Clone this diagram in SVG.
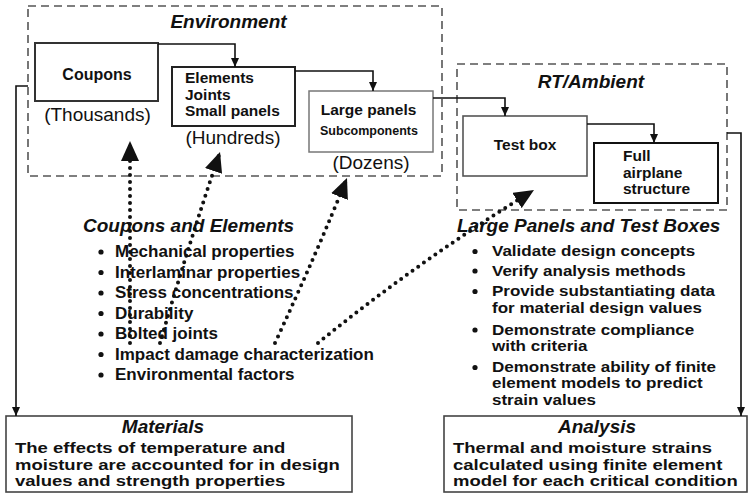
<svg xmlns="http://www.w3.org/2000/svg" width="750" height="494" viewBox="0 0 750 494">
<style>
text{font-family:"Liberation Sans",Arial,sans-serif;fill:#111}
.b{font-weight:bold}
.h{font-weight:bold;font-style:italic;font-size:19px}
.n{font-size:15.5px;font-weight:bold}
.cnt{font-size:19px;text-anchor:middle}
.li{font-size:17px;font-weight:bold}
.lr{font-size:14.8px;font-weight:bold}
.bt{font-size:14.8px;font-weight:bold}
.dash{fill:none;stroke:#555;stroke-width:1.6;stroke-dasharray:8 5}
.box{fill:#fff}
.conn{fill:none;stroke:#111;stroke-width:1.6}
.dot{fill:none;stroke:#111;stroke-width:4;stroke-dasharray:0 7;stroke-linecap:round}
.bul{fill:#111}
</style>
<defs>
<marker id="sa" viewBox="0 0 9 8" refX="9" refY="4" markerWidth="9" markerHeight="8" markerUnits="userSpaceOnUse" orient="auto"><path d="M0,0 L9,4 L0,8 z" fill="#111"/></marker>
<marker id="ba" viewBox="0 0 20 18" refX="20" refY="9" markerWidth="20" markerHeight="18" markerUnits="userSpaceOnUse" orient="auto"><path d="M0,0 L20,9 L0,18 z" fill="#111"/></marker>
</defs>
<rect width="750" height="494" fill="#fff"/>

<g id="environment">
<rect class="dash" x="28" y="6" width="414" height="170"/>
<text class="h" x="228.5" y="28" text-anchor="middle">Environment</text>
</g>
<g id="rt-ambient">
<rect class="dash" x="457" y="64" width="270" height="146"/>
<text class="h" x="591" y="88" text-anchor="middle">RT/Ambient</text>
</g>

<g id="coupons">
<rect class="box" x="35" y="43" width="123" height="58" stroke="#333" stroke-width="2"/>
<text class="b" x="97" y="80" font-size="16" text-anchor="middle">Coupons</text>
<text class="cnt" x="97.5" y="121">(Thousands)</text>
</g>
<g id="elements">
<rect class="box" x="172" y="67" width="123" height="59" stroke="#222" stroke-width="2"/>
<text class="n" x="185" y="83">Elements</text>
<text class="n" x="185" y="100">Joints</text>
<text class="n" x="185" y="116">Small panels</text>
<text class="cnt" x="233" y="144">(Hundreds)</text>
</g>
<g id="large-panels">
<rect class="box" x="309" y="91" width="124" height="61" stroke="#777" stroke-width="1.5"/>
<text class="n" x="368.5" y="115" text-anchor="middle">Large panels</text>
<text class="b" x="369" y="135" font-size="12.5" text-anchor="middle">Subcomponents</text>
<text class="cnt" x="371" y="169">(Dozens)</text>
</g>
<g id="test-box">
<rect class="box" x="463" y="116" width="124" height="60" stroke="#555" stroke-width="1.6"/>
<text class="n" x="525" y="150" text-anchor="middle">Test box</text>
</g>
<g id="full-airplane">
<rect class="box" x="594" y="143" width="124" height="60" stroke="#111" stroke-width="2"/>
<text class="n" x="623" y="161">Full</text>
<text class="n" x="623" y="178">airplane</text>
<text class="n" x="623" y="194">structure</text>
</g>

<g id="coupons-elements-list">
<text class="h" x="83" y="232">Coupons and Elements</text>
<g class="bul">
<circle cx="101" cy="252" r="2.6"/><circle cx="101" cy="272.5" r="2.6"/><circle cx="101" cy="293" r="2.6"/><circle cx="101" cy="313.5" r="2.6"/><circle cx="101" cy="334" r="2.6"/><circle cx="101" cy="354.5" r="2.6"/><circle cx="101" cy="375" r="2.6"/>
</g>
<text class="li" x="115" y="257">Mechanical properties</text>
<text class="li" x="115" y="277.5">Interlaminar properties</text>
<text class="li" x="115" y="298">Stress concentrations</text>
<text class="li" x="115" y="318.5">Durability</text>
<text class="li" x="115" y="339">Bolted joints</text>
<text class="li" x="115" y="359.5">Impact damage characterization</text>
<text class="li" x="115" y="380">Environmental factors</text>
</g>

<g id="large-panels-list">
<text class="h" x="457" y="232">Large Panels and Test Boxes</text>
<g class="bul">
<circle cx="475" cy="251.5" r="2.6"/><circle cx="475" cy="271" r="2.6"/><circle cx="475" cy="291.5" r="2.6"/><circle cx="475" cy="330" r="2.6"/><circle cx="475" cy="367.5" r="2.6"/>
</g>
<g transform="translate(492,0) scale(1.15,1)">
<text class="lr" x="0" y="256.5">Validate design concepts</text>
<text class="lr" x="0" y="276">Verify analysis methods</text>
<text class="lr" x="0" y="296.5">Provide substantiating data</text>
<text class="lr" x="0" y="313">for material design values</text>
<text class="lr" x="0" y="335">Demonstrate compliance</text>
<text class="lr" x="0" y="351.5">with criteria</text>
<text class="lr" x="0" y="372">Demonstrate ability of finite</text>
<text class="lr" x="0" y="388.5">element models to predict</text>
<text class="lr" x="0" y="405">strain values</text>
</g>
</g>

<g id="materials">
<rect class="box" x="6" y="416" width="346" height="76" stroke="#444" stroke-width="1.6"/>
<text class="h" x="163" y="433" text-anchor="middle">Materials</text>
<g transform="translate(15,0) scale(1.25,1)">
<text class="bt" x="0" y="453.5">The effects of temperature and</text>
<text class="bt" x="0" y="470">moisture are accounted for in design</text>
<text class="bt" x="0" y="486.5">values and strength properties</text>
</g>
</g>
<g id="analysis">
<rect class="box" x="444" y="416" width="303" height="76" stroke="#444" stroke-width="1.6"/>
<text class="h" x="597" y="433" text-anchor="middle">Analysis</text>
<g transform="translate(453,0) scale(1.25,1)">
<text class="bt" x="0" y="453.5">Thermal and moisture strains</text>
<text class="bt" x="0" y="470">calculated using finite element</text>
<text class="bt" x="0" y="486.5">model for each critical condition</text>
</g>
</g>

<g id="connectors">
<path class="conn" d="M158,44 H235 V67" marker-end="url(#sa)"/>
<path class="conn" d="M295,71 H373 V91" stroke="#777" marker-end="url(#sa)"/>
<path class="conn" d="M433,98 H505 V116" marker-end="url(#sa)"/>
<path class="conn" d="M587,124 H654 V143" marker-end="url(#sa)"/>
<path class="conn" d="M28,86 H16 V416" stroke-width="2" marker-end="url(#sa)"/>
<path class="conn" d="M727,133 H741 V416" stroke-width="2" marker-end="url(#sa)"/>
<path class="dot" d="M130,343 L130,141" marker-end="url(#ba)"/>
<path class="dot" d="M160,343 Q190,240 220,152" marker-end="url(#ba)"/>
<path class="dot" d="M275,343 Q318,250 347,178" marker-end="url(#ba)"/>
<path class="dot" d="M318,343 Q420,260 534,190" marker-end="url(#ba)"/>
</g>
</svg>
